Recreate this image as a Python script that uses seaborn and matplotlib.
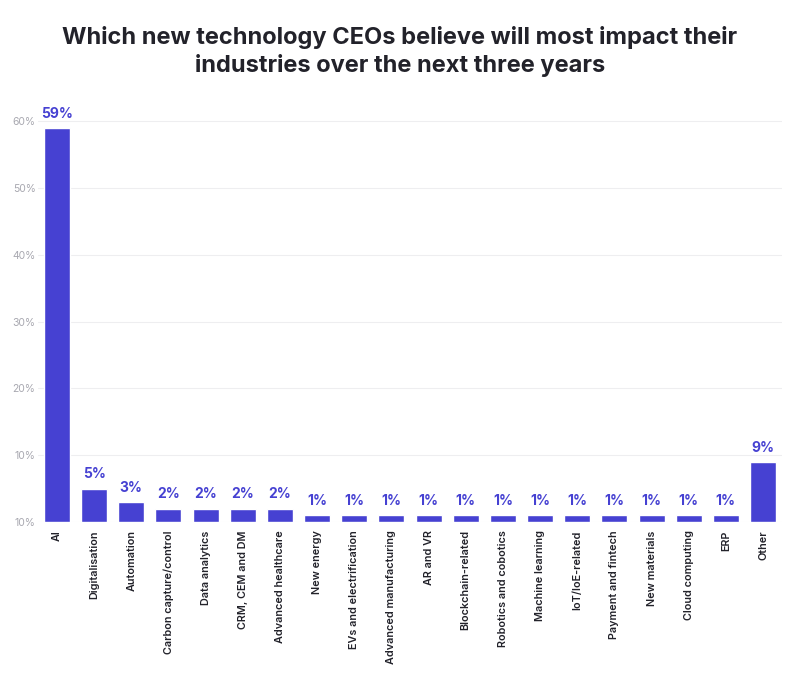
import pandas as pd
import seaborn as sns
import matplotlib.pyplot as plt

technologies = [
    "AI", "Digitalisation", "Automation", "Carbon capture/control",
    "Data analytics", "CRM, CEM and DM", "Advanced healthcare", "New energy",
    "EVs and electrification", "Advanced manufacturing", "AR and VR",
    "Blockchain-related", "Robotics and cobotics", "Machine learning",
    "IoT/IoE-related", "Payment and fintech", "New materials",
    "Cloud computing", "ERP", "Other",
]
shares = [59, 5, 3, 2, 2, 2, 2, 1, 1, 1, 1, 1, 1, 1, 1, 1, 1, 1, 1, 9]
y_ticks = [0, 10, 20, 30, 40, 50, 60]
y_tick_labels = ["10%", "10%", "20%", "30%", "40%", "50%", "60%"]

df = pd.DataFrame({"tech": technologies, "share": shares})

bar_color = "#4641D2"

sns.set_style("white")
plt.rcParams["font.family"] = ["Inter", "DejaVu Sans"]

fig = plt.figure(figsize=(8, 6.89), dpi=100)
ax = fig.add_axes([0.048, 0.2424, 0.929, 0.6106])

sns.barplot(data=df, x="tech", y="share", color=bar_color, width=0.7,
            saturation=1, ax=ax, zorder=3)

for i, v in enumerate(shares):
    ax.text(i, v + 1.1, f"{v}%", ha="center", va="bottom", color=bar_color,
            fontsize=10, fontweight="bold")

ax.set_ylim(0, 63)
ax.set_xlim(-0.5, len(technologies) - 0.5)
ax.set_yticks(y_ticks)
ax.set_yticklabels(y_tick_labels, fontsize=7.5, color="#a8a8b0")
ax.tick_params(axis="y", length=0, pad=2)
ax.tick_params(axis="x", length=0, pad=6)
ax.set_xticks(range(len(technologies)))
ax.set_xticklabels(technologies, rotation=90, fontsize=7.8, color="#22222a",
                   fontweight="semibold")
ax.grid(axis="y", color="#eeeef0", linewidth=0.8, zorder=0)
ax.set_xlabel("")
ax.set_ylabel("")
sns.despine(ax=ax, left=True, bottom=True)

fig.text(0.5, 0.925, "Which new technology CEOs believe will most impact their\n"
         "industries over the next three years", ha="center", va="center",
         fontsize=17, fontweight="bold", color="#22222a", linespacing=1.3)

fig.savefig("out.png", dpi=100, facecolor="white")
